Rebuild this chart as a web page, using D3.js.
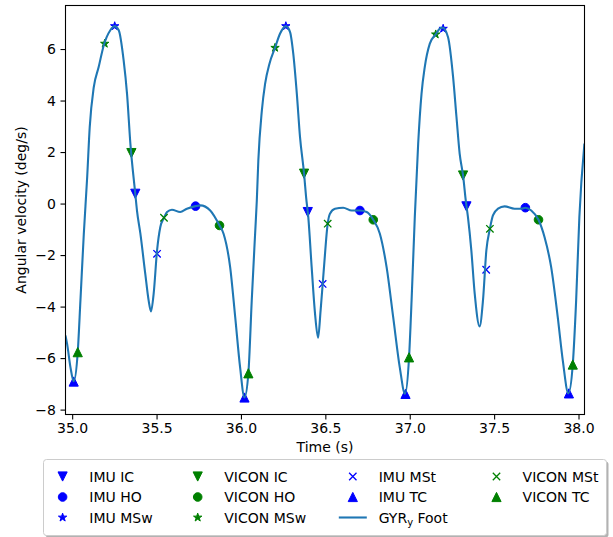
<!DOCTYPE html>
<html>
<head>
<meta charset="utf-8">
<script src="https://cdn.jsdelivr.net/npm/d3@7"></script>
<style>
  html, body { margin: 0; padding: 0; background: #fff; }
  svg { display: block; font-family: "DejaVu Sans", sans-serif; }
</style>
</head>
<body>
<svg id="chart" width="613" height="537"></svg>
<script>
// Foot gyroscope signal (sagittal plane), seconds / deg/s
const time = [34.960, 34.970, 34.990, 35.009, 35.033, 35.049, 35.069, 35.089, 35.104, 35.128,
  35.157, 35.187, 35.226, 35.252, 35.276, 35.305, 35.325, 35.345, 35.374, 35.384,
  35.404, 35.433, 35.453, 35.467, 35.483, 35.503, 35.522, 35.544, 35.562, 35.591,
  35.640, 35.680, 35.731, 35.759, 35.818, 35.873, 35.897, 35.936, 35.966, 35.995,
  36.021, 36.044, 36.064, 36.084, 36.094, 36.103, 36.124, 36.143, 36.169, 36.202,
  36.232, 36.266, 36.291, 36.310, 36.331, 36.350, 36.374, 36.386, 36.399, 36.419,
  36.439, 36.457, 36.472, 36.492, 36.514, 36.527, 36.557, 36.606, 36.656, 36.705,
  36.745, 36.784, 36.823, 36.863, 36.902, 36.941, 36.972, 36.996, 37.011, 37.030,
  37.050, 37.070, 37.089, 37.119, 37.154, 37.178, 37.194, 37.227, 37.257, 37.277,
  37.296, 37.316, 37.332, 37.345, 37.365, 37.385, 37.414, 37.434, 37.454, 37.475,
  37.493, 37.523, 37.562, 37.621, 37.661, 37.685, 37.720, 37.763, 37.799, 37.838,
  37.877, 37.907, 37.940, 37.966, 37.986, 38.005, 38.035];
const gyrY = [-5.12, -5.45, -6.36, -6.90, -5.77, -3.76, -1.17, 1.03, 2.97, 4.52,
  5.30, 6.14, 6.73, 6.89, 6.73, 5.56, 4.27, 2.32, 0.38, -0.27,
  -1.16, -2.72, -3.76, -4.19, -3.49, -1.82, -0.92, -0.55, -0.33, -0.24,
  -0.33, -0.20, -0.10, -0.07, -0.27, -0.85, -1.17, -2.47, -4.41, -6.36,
  -7.53, -6.59, -3.76, -1.16, 0.12, 1.67, 3.62, 4.65, 5.43, 6.05,
  6.60, 6.89, 6.66, 5.82, 4.27, 2.58, 1.16, 0.25, -0.53, -2.47,
  -4.28, -5.21, -4.15, -2.47, -0.78, -0.40, -0.20, -0.16, -0.27, -0.27,
  -0.33, -0.63, -1.17, -2.47, -4.41, -6.36, -7.38, -5.97, -3.76, -0.53,
  2.32, 4.27, 5.30, 6.21, 6.57, 6.79, 6.83, 6.46, 4.91, 3.36,
  1.93, 1.09, 0.12, -0.53, -1.82, -3.50, -4.77, -3.76, -1.82, -0.98,
  -0.46, -0.20, -0.11, -0.20, -0.20, -0.16, -0.27, -0.63, -1.31, -2.47,
  -4.41, -6.10, -7.37, -6.25, -3.76, -0.53, 2.33];

const xTicks = [35.0, 35.5, 36.0, 36.5, 37.0, 37.5, 38.0];
const yTicks = [-8, -6, -4, -2, 0, 2, 4, 6];

// Gait events detected from the IMU and from the VICON reference
const imuIC_t = [35.374, 36.396, 37.336],   imuIC_v = [0.38, -0.33, -0.11];
const imuHO_t = [35.731, 36.705, 37.685],   imuHO_v = [-0.10, -0.27, -0.16];
const imuMSw_t = [35.252, 36.266, 37.198],  imuMSw_v = [6.89, 6.89, 6.79];
const viconIC_t = [35.351, 36.374, 37.316], viconIC_v = [1.96, 1.16, 1.09];
const viconHO_t = [35.873, 36.784, 37.763], viconHO_v = [-0.85, -0.63, -0.63];
const viconMSw_t = [35.193, 36.202, 37.154], viconMSw_v = [6.21, 6.05, 6.57];
const imuMSt_t = [35.503, 36.484, 37.453],  imuMSt_v = [-1.95, -3.12, -2.57];
const imuTC_t = [35.009, 36.021, 36.975, 37.943], imuTC_v = [-6.91, -7.53, -7.39, -7.37];
const viconMSt_t = [35.544, 36.514, 37.475], viconMSt_v = [-0.55, -0.78, -0.98];
const viconTC_t = [35.033, 36.044, 36.996, 37.966], viconTC_v = [-5.77, -6.59, -5.97, -6.25];

const svg = d3.select("#chart");
const plot = { left: 65.5, right: 584.5, top: 5.5, bottom: 414.5 };

const x = d3.scaleLinear().domain([34.9605, 38.0355]).range([plot.left, plot.right]);
const y = d3.scaleLinear().domain([-8.19, 7.69]).range([plot.bottom, plot.top]);

const BLUE = "#0000ff", GREEN = "#008000", LINE = "#1f77b4";

// marker shapes
const shapes = {
  down: r => `M${-r},${-r}L${r},${-r}L0,${r}Z`,
  up: r => `M0,${-r}L${r},${r}L${-r},${r}Z`,
  circle: r => `M${r},0A${r},${r} 0 1,1 ${-r},0A${r},${r} 0 1,1 ${r},0Z`,
  star: r => {
    const pts = [];
    for (let i = 0; i < 10; i++) {
      const rad = i % 2 === 0 ? r : r * 0.381966;
      const a = -Math.PI / 2 + i * Math.PI / 5;
      pts.push([rad * Math.cos(a), rad * Math.sin(a)]);
    }
    return "M" + pts.map(p => p[0].toFixed(2) + "," + p[1].toFixed(2)).join("L") + "Z";
  },
  cross: r => `M${-r},${-r}L${r},${r}M${-r},${r}L${r},${-r}`
};
const sizes = { down: 4.6, up: 4.6, circle: 4.3, star: 4.4, cross: 3.7 };

const series = [
  { name: "IMU IC", t: imuIC_t, v: imuIC_v, shape: "down", color: BLUE },
  { name: "IMU HO", t: imuHO_t, v: imuHO_v, shape: "circle", color: BLUE },
  { name: "IMU MSw", t: imuMSw_t, v: imuMSw_v, shape: "star", color: BLUE },
  { name: "VICON IC", t: viconIC_t, v: viconIC_v, shape: "down", color: GREEN },
  { name: "VICON HO", t: viconHO_t, v: viconHO_v, shape: "circle", color: GREEN },
  { name: "VICON MSw", t: viconMSw_t, v: viconMSw_v, shape: "star", color: GREEN },
  { name: "IMU MSt", t: imuMSt_t, v: imuMSt_v, shape: "cross", color: BLUE },
  { name: "IMU TC", t: imuTC_t, v: imuTC_v, shape: "up", color: BLUE },
  { name: "GYR", line: true },
  { name: "VICON MSt", t: viconMSt_t, v: viconMSt_v, shape: "cross", color: GREEN },
  { name: "VICON TC", t: viconTC_t, v: viconTC_v, shape: "up", color: GREEN }
];

function styleMarker(sel, s) {
  if (s.shape === "cross") {
    sel.attr("fill", "none").attr("stroke", s.color).attr("stroke-width", 1.3);
  } else {
    sel.attr("fill", s.color).attr("stroke", s.color).attr("stroke-width", 1);
  }
}

svg.append("defs").append("clipPath").attr("id", "plotClip")
  .append("rect")
  .attr("x", plot.left).attr("y", plot.top)
  .attr("width", plot.right - plot.left).attr("height", plot.bottom - plot.top);

const body = svg.append("g").attr("clip-path", "url(#plotClip)");
const signal = time.map((t, i) => [t, gyrY[i]]);
const lineGen = d3.line().x(d => x(d[0])).y(d => y(d[1])).curve(d3.curveMonotoneX);

series.forEach(s => {
  if (s.line) {
    body.append("path").datum(signal)
      .attr("d", lineGen)
      .attr("fill", "none").attr("stroke", LINE)
      .attr("stroke-width", 2.1).attr("stroke-linejoin", "round");
    return;
  }
  const pts = s.t.map((t, i) => [t, s.v[i]]);
  body.append("g").selectAll("path").data(pts).join("path")
    .attr("transform", d => `translate(${x(d[0])},${y(d[1])})`)
    .attr("d", shapes[s.shape](sizes[s.shape]))
    .call(styleMarker, s);
});

// axes
const xAxis = d3.axisBottom(x).tickValues(xTicks).tickFormat(d3.format(".1f"))
  .tickSizeInner(5).tickSizeOuter(0).tickPadding(4);
const yAxis = d3.axisLeft(y).tickValues(yTicks).tickFormat(d => d < 0 ? "\u2212" + Math.abs(d) : d)
  .tickSizeInner(5).tickSizeOuter(0).tickPadding(4.5);

const gx = svg.append("g").attr("transform", `translate(0,${plot.bottom})`).call(xAxis);
const gy = svg.append("g").attr("transform", `translate(${plot.left},0)`).call(yAxis);
[gx, gy].forEach(g => {
  g.select(".domain").remove();
  g.selectAll("line").attr("stroke", "#000").attr("stroke-width", 1.1);
  g.selectAll("text").attr("font-size", 14).attr("fill", "#000")
    .attr("font-family", "DejaVu Sans, sans-serif");
});

// frame
svg.append("rect")
  .attr("x", plot.left).attr("y", plot.top)
  .attr("width", plot.right - plot.left).attr("height", plot.bottom - plot.top)
  .attr("fill", "none").attr("stroke", "#000").attr("stroke-width", 1.1);

// axis titles
svg.append("text").attr("x", (plot.left + plot.right) / 2).attr("y", 452)
  .attr("text-anchor", "middle").attr("font-size", 14).text("Time (s)");
svg.append("text")
  .attr("transform", `translate(25.5,${(plot.top + plot.bottom) / 2}) rotate(-90)`)
  .attr("text-anchor", "middle").attr("font-size", 14).text("Angular velocity (deg/s)");

// legend
const leg = svg.append("g");
leg.append("rect").attr("x", 45.5).attr("y", 461.5).attr("width", 563).attr("height", 76)
  .attr("rx", 3).attr("fill", "#000").attr("fill-opacity", 0.3);
leg.append("rect").attr("x", 43.5).attr("y", 459.5).attr("width", 563).attr("height", 76)
  .attr("rx", 3).attr("fill", "#fff").attr("stroke", "#cccccc").attr("stroke-width", 1);

const colMark = [62.6, 197.7, 352.8, 496.5];
const colText = [89.3, 224.3, 378.7, 522.6];
const rowY = [476.5, 497, 517.5];
const perCol = [3, 3, 3, 2];
let k = 0;
perCol.forEach((n, c) => {
  for (let r = 0; r < n; r++, k++) {
    const s = series[k];
    const cy = rowY[r];
    if (s.line) {
      leg.append("line").attr("x1", colMark[c] - 14).attr("x2", colMark[c] + 14)
        .attr("y1", cy).attr("y2", cy).attr("stroke", LINE).attr("stroke-width", 2.1);
      const t = leg.append("text").attr("x", colText[c]).attr("y", cy + 5).attr("font-size", 14);
      t.append("tspan").text("GYR");
      t.append("tspan").attr("font-size", 10).attr("dy", 3).text("y");
      t.append("tspan").attr("dy", -3).text(" Foot");
    } else {
      leg.append("path").attr("transform", `translate(${colMark[c]},${cy})`)
        .attr("d", shapes[s.shape](sizes[s.shape]))
        .call(styleMarker, s);
      leg.append("text").attr("x", colText[c]).attr("y", cy + 5).attr("font-size", 14).text(s.name);
    }
  }
});
</script>
</body>
</html>
